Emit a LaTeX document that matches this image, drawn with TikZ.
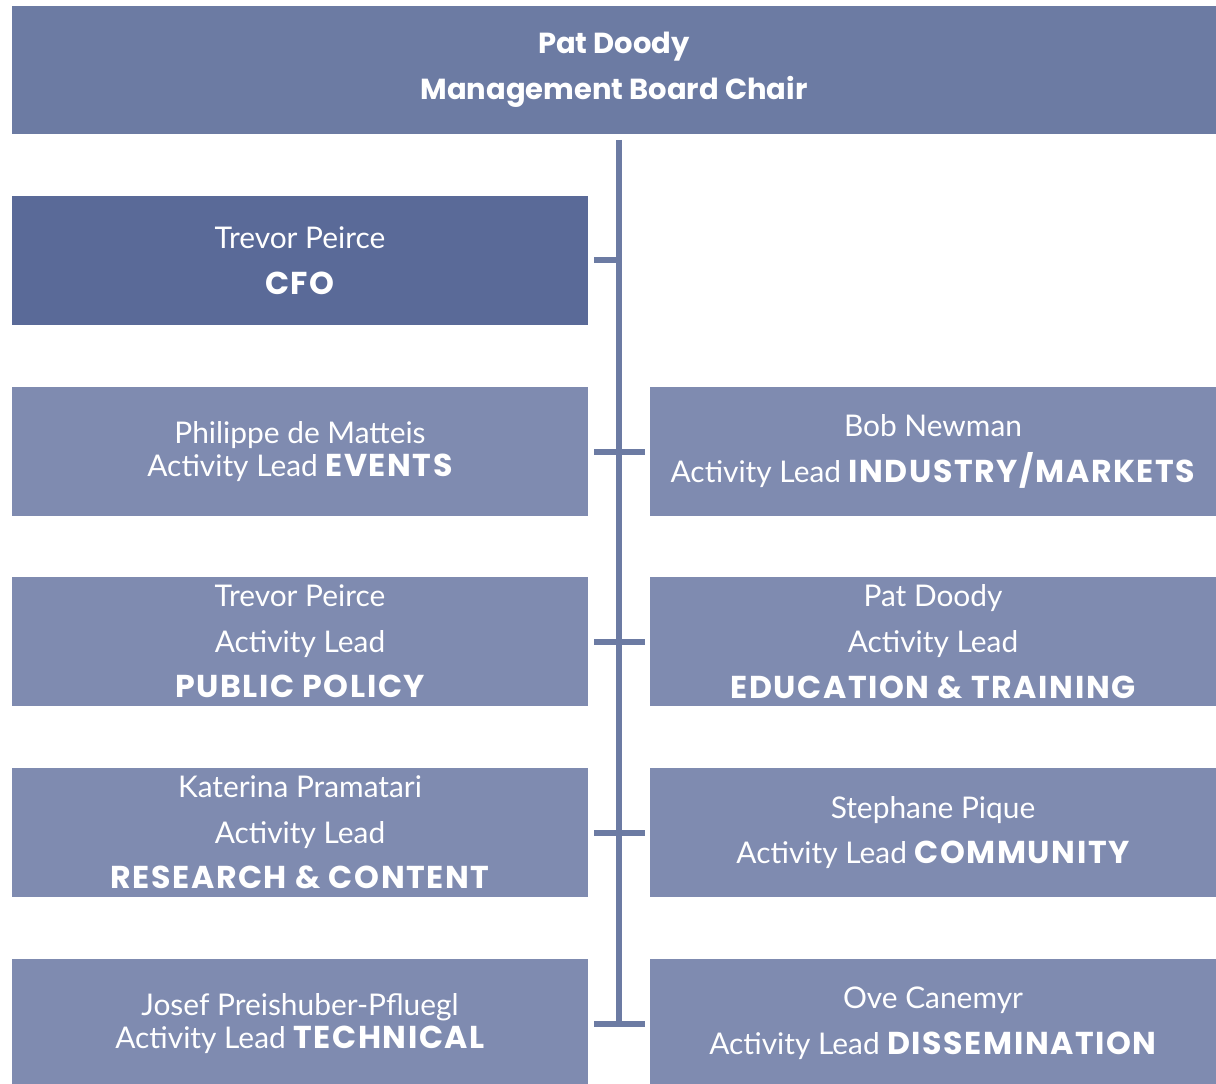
\documentclass[tikz,border=0pt]{standalone}
\usepackage{fontspec}
\setmainfont{Lato}
\newfontfamily\rolefont{Poppins}[LetterSpace=5]
\newfontfamily\chairfont{Poppins}
\newcommand\role[1]{{\fontsize{18}{26}\rolefont\bfseries #1}}
\usetikzlibrary{positioning}
\definecolor{chairblue}{RGB}{108,123,163}
\definecolor{cfoblue}{RGB}{90,106,152}
\definecolor{leadblue}{RGB}{127,139,176}
\tikzset{
    box/.style={
        fill=leadblue,
        text=white,
        align=center,
        inner sep=0pt,
        minimum height=2.58cm,
        font=\fontsize{17}{26}\selectfont},
    leftbox/.style={box,minimum width=11.52cm},
    rightbox/.style={box,minimum width=11.32cm},
    tight/.style={font=\fontsize{17}{19}\selectfont},
    chairbox/.style={box,fill=chairblue,
        minimum width=24.08cm,minimum height=2.56cm,
        font=\fontsize{16.5}{26}\chairfont\bfseries},
    spine/.style={
        draw=chairblue,
        line width=0.12cm}}

\begin{document}
\begin{tikzpicture}[x=0.02cm,y=-0.02cm]
        \useasboundingbox (0,0) rectangle (1216,1084);
        \node[chairbox] (chair) at (614,70) {Pat Doody\\Management Board Chair};

        \node[leftbox,fill=cfoblue] (cfo) at (300,260.5) {Trevor Peirce\\\role{CFO}};
        \node[leftbox,tight] (events) at (300,451.5) {Philippe de Matteis\\Activity Lead \role{EVENTS}};
        \node[leftbox] (policy) at (300,641.5) {Trevor Peirce\\Activity Lead\\\role{PUBLIC POLICY}};
        \node[leftbox] (research) at (300,832.5) {Katerina Pramatari\\Activity Lead\\\role{RESEARCH \& CONTENT}};
        \node[leftbox,tight] (technical) at (300,1023.5) {Josef Preishuber-Pfluegl\\Activity Lead \role{TECHNICAL}};

        \node[rightbox] (industry) at (933,451.5) {Bob Newman\\Activity Lead \role{INDUSTRY/MARKETS}};
        \node[rightbox] (education) at (933,641.5) {Pat Doody\\Activity Lead\\\role{EDUCATION \& TRAINING}};
        \node[rightbox] (community) at (933,832.5) {Stephane Pique\\Activity Lead \role{COMMUNITY}};
        \node[rightbox] (dissemination) at (933,1023.5) {Ove Canemyr\\Activity Lead \role{DISSEMINATION}};

        % spine under the chair
        \coordinate (top) at (619,140);
        \coordinate (bottom) at (619,1026);
        \coordinate (cfojoin) at (622,260.5);
        \draw[spine] (top) -- (bottom);

        \draw[spine] ([xshift=0.12cm]cfo.east) -- (cfojoin);
        \draw[spine] ([xshift=0.12cm]events.east) -- ([xshift=-0.1cm]industry.west);
        \draw[spine] ([xshift=0.12cm]policy.east) -- ([xshift=-0.1cm]education.west);
        \draw[spine] ([xshift=0.12cm]research.east) -- ([xshift=-0.1cm]community.west);
        \draw[spine] ([xshift=0.12cm]technical.east) -- ([xshift=-0.1cm]dissemination.west);
    \end{tikzpicture}
\end{document}
